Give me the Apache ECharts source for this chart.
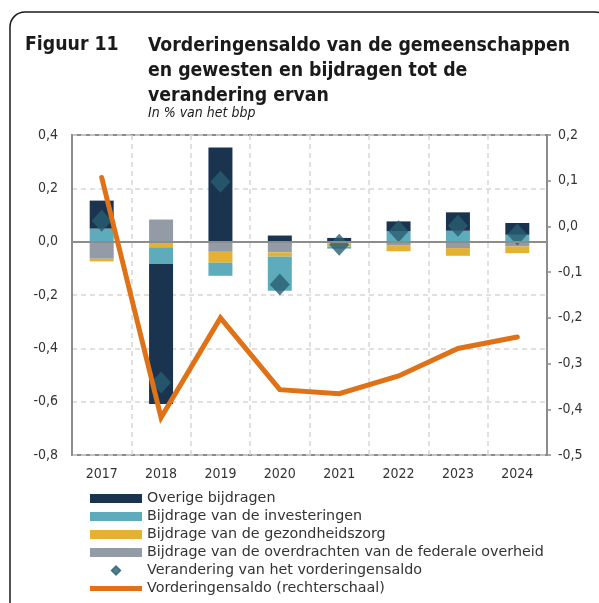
<!DOCTYPE html>
<html>
<head>
<meta charset="utf-8">
<script src="https://cdn.jsdelivr.net/npm/echarts@6/dist/echarts.min.js"></script>
<style>
  html, body { margin: 0; padding: 0; background: #fff; }
  #chart { width: 599px; height: 603px; }
</style>
</head>
<body>
<div id="chart"></div>
<script>
// categorieën en waarden (in % van het bbp)
const years = ['2017', '2018', '2019', '2020', '2021', '2022', '2023', '2024']
const overige = [0.105, -0.525, 0.353, 0.023, 0.014, 0.036, 0.069, 0.044]
const investeringen = [0.049, -0.063, -0.049, -0.128, -0.008, 0.040, 0.041, 0.026]
const gezondheidszorg = [-0.010, -0.021, -0.041, -0.016, -0.012, -0.023, -0.029, -0.025]
const overdrachten = [-0.064, 0.083, -0.038, -0.040, -0.006, -0.013, -0.024, -0.018]
const verandering = [0.078, -0.528, 0.225, -0.161, -0.012, 0.039, 0.060, 0.027]
const saldo = [0.107, -0.418, -0.200, -0.357, -0.366, -0.327, -0.267, -0.242]

const names = [
  'Overige bijdragen',
  'Bijdrage van de investeringen',
  'Bijdrage van de gezondheidszorg',
  'Bijdrage van de overdrachten van de federale overheid',
  'Verandering van het vorderingensaldo',
  'Vorderingensaldo (rechterschaal)'
]

const FONT = "'DejaVu Sans Condensed', 'DejaVu Sans', sans-serif"
const FONT_WIDE = "'DejaVu Sans', sans-serif"
const AXIS = '#8c8c8c'
const GRIDLINE = '#d6d6d6'
const fmt = v => v.toFixed(1).replace('.', ',')

const chart = echarts.init(document.getElementById('chart'))

const barSeries = (name, data, color) => ({
  name,
  type: 'bar',
  stack: 'bijdragen',
  barWidth: 24,
  data,
  itemStyle: { color }
})

const option = {
  animation: false,
  textStyle: { fontFamily: FONT },
  graphic: [
    {
      type: 'rect',
      shape: { x: 10, y: 12, width: 600, height: 610, r: 15 },
      style: { fill: 'none', stroke: '#1a1a1a', lineWidth: 1.5 },
      silent: true
    }
  ],
  title: [
    {
      text: 'Figuur 11',
      left: 25,
      top: 35,
      padding: 0,
      textStyle: { fontFamily: FONT, fontSize: 19.3, fontWeight: 'bold', color: '#1a1a1a' }
    },
    {
      text: 'Vorderingensaldo van de gemeenschappen\nen gewesten en bijdragen tot de\nverandering ervan',
      left: 148,
      top: 33,
      padding: 0,
      textStyle: { fontFamily: FONT, fontSize: 19.3, fontWeight: 'bold', color: '#1a1a1a', lineHeight: 25 }
    },
    {
      text: 'In % van het bbp',
      left: 148,
      top: 106,
      padding: 0,
      textStyle: { fontFamily: FONT, fontSize: 14, fontStyle: 'italic', fontWeight: 'normal', color: '#1a1a1a' }
    }
  ],
  legend: {
    orient: 'vertical',
    left: 90,
    top: 490,
    padding: 0,
    itemWidth: 52,
    itemHeight: 9,
    itemGap: 1,
    selectedMode: false,
    textStyle: { fontFamily: FONT_WIDE, fontSize: 14.3, color: '#333', lineHeight: 17 },
    data: [
      { name: names[0], icon: 'rect' },
      { name: names[1], icon: 'rect' },
      { name: names[2], icon: 'rect' },
      { name: names[3], icon: 'rect' },
      {
        name: names[4],
        icon: 'path://M5,0L10,5L5,10L0,5Z',
        itemStyle: { color: '#285e70', borderColor: '#285e70', borderWidth: 1.5 }
      },
      { name: names[5], icon: 'path://M0,0H52V5H0Z', itemStyle: { color: '#df7116', borderWidth: 0 } }
    ]
  },
  grid: {
    left: 72,
    right: 52,
    top: 135,
    bottom: 148,
    show: true,
    borderColor: AXIS,
    borderWidth: 2,
    backgroundColor: 'transparent'
  },
  xAxis: {
    type: 'category',
    data: years,
    axisLine: { lineStyle: { color: AXIS, width: 2 } },
    axisTick: { show: false },
    axisLabel: { color: '#333', fontSize: 14, margin: 12, fontFamily: FONT },
    splitLine: { show: true, lineStyle: { color: GRIDLINE, type: [5, 4], width: 1.5 } }
  },
  yAxis: [
    {
      type: 'value',
      min: -0.8,
      max: 0.4,
      interval: 0.2,
      axisLine: { show: true, lineStyle: { color: AXIS, width: 2 } },
      axisTick: { show: false },
      axisLabel: { color: '#333', fontSize: 14, margin: 14, fontFamily: FONT, formatter: fmt },
      splitLine: { show: true, lineStyle: { color: GRIDLINE, type: [5, 4], width: 1.5 } }
    },
    {
      type: 'value',
      position: 'right',
      min: -0.5,
      max: 0.2,
      interval: 0.1,
      axisLine: { show: true, lineStyle: { color: AXIS, width: 2 } },
      axisTick: { show: true, inside: false, length: 4, lineStyle: { color: AXIS, width: 1.5 } },
      axisLabel: { color: '#333', fontSize: 14, margin: 11, fontFamily: FONT, formatter: fmt },
      splitLine: { show: false }
    }
  ],
  series: [
    Object.assign(barSeries(names[3], overdrachten, '#939ba6'), {
      markLine: {
        silent: true,
        symbol: 'none',
        label: { show: false },
        lineStyle: { color: AXIS, width: 2, type: 'solid' },
        data: [{ yAxis: 0 }]
      }
    }),
    barSeries(names[2], gezondheidszorg, '#e4b133'),
    barSeries(names[1], investeringen, '#5eacbb'),
    barSeries(names[0], overige, '#1a3450'),
    {
      name: names[4],
      type: 'scatter',
      symbol: 'diamond',
      symbolSize: [20, 22],
      data: verandering,
      itemStyle: { color: '#285e70', borderWidth: 0 },
      z: 4
    },
    {
      name: names[5],
      type: 'line',
      yAxisIndex: 1,
      data: saldo,
      symbol: 'none',
      itemStyle: { color: '#df7116' },
      lineStyle: { color: '#df7116', width: 5, cap: 'round', join: 'miter' },
      z: 5
    }
  ]
}

chart.setOption(option)
</script>
</body>
</html>
